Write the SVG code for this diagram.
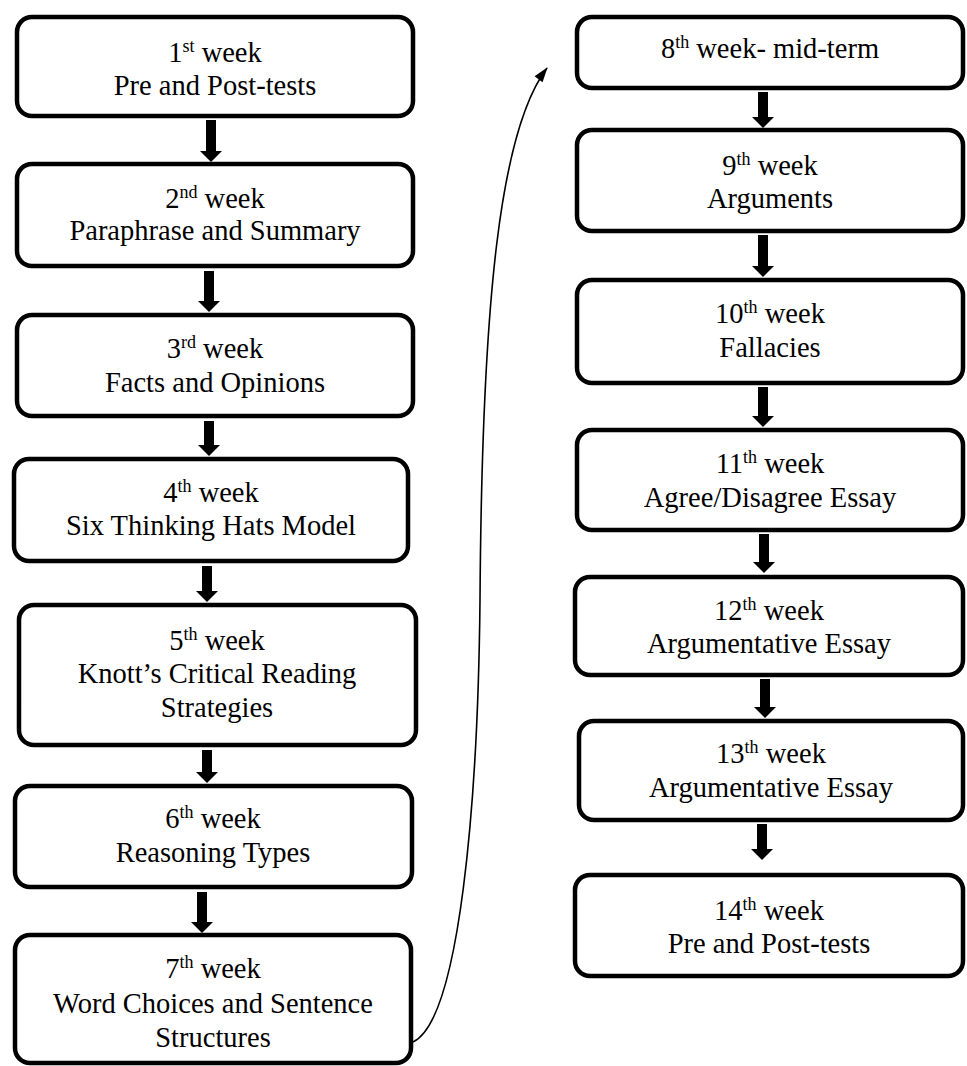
<svg xmlns="http://www.w3.org/2000/svg" width="967" height="1066" viewBox="0 0 967 1066">
<defs>
<style>
.box{fill:#fff;stroke:#000;stroke-width:4.5}
text{font-family:'Liberation Serif','DejaVu Serif',serif;font-size:28.5px;fill:#000;text-anchor:middle}
.sup{font-size:18px}
.shaft{stroke:#000;stroke-width:10;fill:none}
.curve{stroke:#000;stroke-width:1.6;fill:none}
</style>
<marker id="head" markerUnits="userSpaceOnUse" markerWidth="12" markerHeight="24" refX="0" refY="11" orient="auto" viewBox="0 0 12 22" overflow="visible">
<path d="M0,0 L11,11 L0,22 Z" fill="#000"/>
</marker>
<marker id="thin" markerUnits="userSpaceOnUse" markerWidth="16" markerHeight="12" refX="14" refY="5" orient="auto" viewBox="0 0 16 10" overflow="visible">
<path d="M0,0 L15,5 L0,10 Z" fill="#000"/>
</marker>
</defs>
<rect width="967" height="1066" fill="#fff"/>
<g id="connectors">
<line class="shaft" x1="211" y1="120" x2="211" y2="151" marker-end="url(#head)"/>
<line class="shaft" x1="209" y1="271" x2="209" y2="301" marker-end="url(#head)"/>
<line class="shaft" x1="209" y1="421" x2="209" y2="445" marker-end="url(#head)"/>
<line class="shaft" x1="207" y1="566" x2="207" y2="591" marker-end="url(#head)"/>
<line class="shaft" x1="207" y1="750" x2="207" y2="772" marker-end="url(#head)"/>
<line class="shaft" x1="202" y1="892" x2="202" y2="922" marker-end="url(#head)"/>
<line class="shaft" x1="763" y1="92" x2="763" y2="117" marker-end="url(#head)"/>
<line class="shaft" x1="763" y1="235" x2="763" y2="266" marker-end="url(#head)"/>
<line class="shaft" x1="763" y1="387" x2="763" y2="416" marker-end="url(#head)"/>
<line class="shaft" x1="764" y1="534" x2="764" y2="562" marker-end="url(#head)"/>
<line class="shaft" x1="765" y1="679" x2="765" y2="707" marker-end="url(#head)"/>
<line class="shaft" x1="762" y1="824" x2="762" y2="849" marker-end="url(#head)"/>
<path class="curve" d="M413,1042 C460,1020 478,800 480,600 C482,300 500,130 547,68" marker-end="url(#thin)"/>
</g>
<g font-family="Liberation Serif, serif">
<g id="n1"><rect class="box" x="17" y="17" width="396" height="99" rx="15"/>
<text x="215" y="62">1<tspan class="sup" dy="-10">st</tspan><tspan dy="10"> week</tspan></text>
<text x="215" y="95">Pre and Post-tests</text></g>
<g id="n2"><rect class="box" x="17" y="164" width="396" height="102" rx="15"/>
<text x="215" y="208">2<tspan class="sup" dy="-10">nd</tspan><tspan dy="10"> week</tspan></text>
<text x="215" y="240">Paraphrase and Summary</text></g>
<g id="n3"><rect class="box" x="17" y="315" width="396" height="101" rx="15"/>
<text x="215" y="358">3<tspan class="sup" dy="-10">rd</tspan><tspan dy="10"> week</tspan></text>
<text x="215" y="392">Facts and Opinions</text></g>
<g id="n4"><rect class="box" x="14" y="459" width="394" height="102" rx="15"/>
<text x="211" y="502">4<tspan class="sup" dy="-10">th</tspan><tspan dy="10"> week</tspan></text>
<text x="211" y="535">Six Thinking Hats Model</text></g>
<g id="n5"><rect class="box" x="19" y="605" width="397" height="140" rx="15"/>
<text x="217" y="650">5<tspan class="sup" dy="-10">th</tspan><tspan dy="10"> week</tspan></text>
<text x="217" y="683">Knott’s Critical Reading</text>
<text x="217" y="717">Strategies</text></g>
<g id="n6"><rect class="box" x="15" y="786" width="397" height="101" rx="15"/>
<text x="213" y="828">6<tspan class="sup" dy="-10">th</tspan><tspan dy="10"> week</tspan></text>
<text x="213" y="862">Reasoning Types</text></g>
<g id="n7"><rect class="box" x="15" y="935" width="396" height="128" rx="15"/>
<text x="213" y="978">7<tspan class="sup" dy="-10">th</tspan><tspan dy="10"> week</tspan></text>
<text x="213" y="1013">Word Choices and Sentence</text>
<text x="213" y="1047">Structures</text></g>
<g id="n8"><rect class="box" x="577" y="17" width="386" height="71" rx="15"/>
<text x="770" y="58">8<tspan class="sup" dy="-10">th</tspan><tspan dy="10"> week- mid-term</tspan></text></g>
<g id="n9"><rect class="box" x="577" y="130" width="386" height="101" rx="15"/>
<text x="770" y="175">9<tspan class="sup" dy="-10">th</tspan><tspan dy="10"> week</tspan></text>
<text x="770" y="208">Arguments</text></g>
<g id="n10"><rect class="box" x="577" y="280" width="386" height="103" rx="15"/>
<text x="770" y="323">10<tspan class="sup" dy="-10">th</tspan><tspan dy="10"> week</tspan></text>
<text x="770" y="357">Fallacies</text></g>
<g id="n11"><rect class="box" x="577" y="430" width="386" height="100" rx="15"/>
<text x="770" y="473">11<tspan class="sup" dy="-10">th</tspan><tspan dy="10"> week</tspan></text>
<text x="770" y="507">Agree/Disagree Essay</text></g>
<g id="n12"><rect class="box" x="575" y="577" width="388" height="98" rx="15"/>
<text x="769" y="620">12<tspan class="sup" dy="-10">th</tspan><tspan dy="10"> week</tspan></text>
<text x="769" y="653">Argumentative Essay</text></g>
<g id="n13"><rect class="box" x="579" y="721" width="384" height="99" rx="15"/>
<text x="771" y="763">13<tspan class="sup" dy="-10">th</tspan><tspan dy="10"> week</tspan></text>
<text x="771" y="797">Argumentative Essay</text></g>
<g id="n14"><rect class="box" x="575" y="875" width="388" height="101" rx="15"/>
<text x="769" y="920">14<tspan class="sup" dy="-10">th</tspan><tspan dy="10"> week</tspan></text>
<text x="769" y="953">Pre and Post-tests</text></g>
</g>
</svg>
